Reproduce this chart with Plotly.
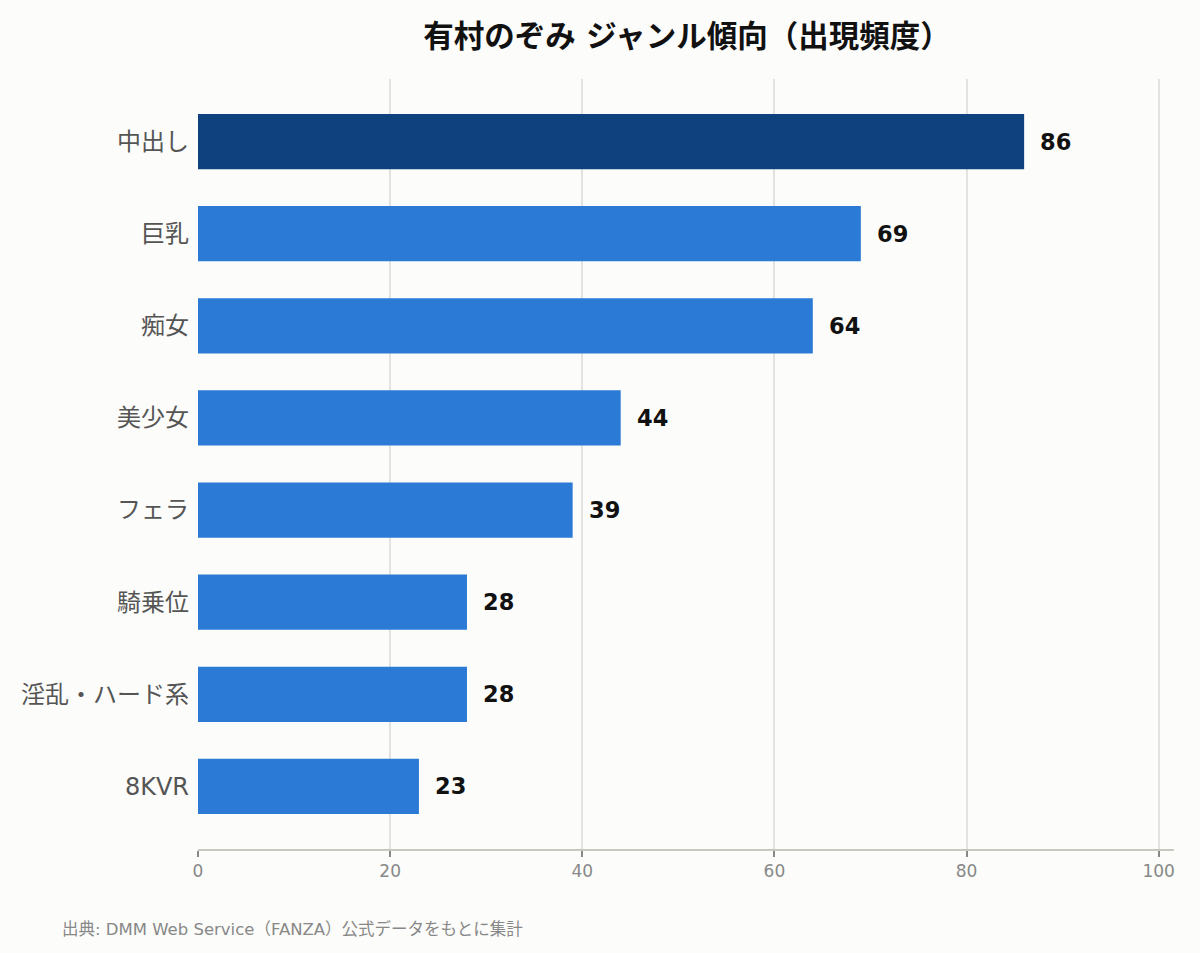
import plotly.graph_objects as go

categories = ["中出し", "巨乳", "痴女", "美少女", "フェラ", "騎乗位", "淫乱・ハード系", "8KVR"]
values = [86, 69, 64, 44, 39, 28, 28, 23]
x_ticks = [0, 20, 40, 60, 80, 100]
title_text = "有村のぞみ ジャンル傾向（出現頻度）"
source_text = "出典: DMM Web Service（FANZA）公式データをもとに集計"

FONT = "DejaVu Sans, Noto Sans CJK JP, sans-serif"
colors = ["#10417F" if i == 0 else "#2A7AD6" for i in range(len(values))]

W, H = 1200, 953
plot_left, plot_right, plot_top, plot_bottom = 198, 1174, 79, 849
pw = plot_right - plot_left
ph = plot_bottom - plot_top

fig = go.Figure()
fig.add_trace(go.Bar(
    x=values, y=categories, orientation="h",
    marker=dict(color=colors, line=dict(width=0)),
    hoverinfo="skip",
))

for c, v in zip(categories, values):
    fig.add_annotation(x=v, y=c, text=f"<b>{v}</b>", showarrow=False,
                       xanchor="left", xshift=14,
                       font=dict(family=FONT, size=22.5, color="#111111"))

fig.add_annotation(x=(60 - plot_left) / pw, y=(plot_bottom - 929) / ph,
                   xref="paper", yref="paper", text=source_text,
                   showarrow=False, xanchor="left", yanchor="middle",
                   font=dict(family=FONT, size=16.5, color="#888888"))

fig.update_layout(
    width=W, height=H,
    margin=dict(l=plot_left, r=W - plot_right, t=plot_top, b=H - plot_bottom, pad=0),
    paper_bgcolor="#FCFCFA", plot_bgcolor="#FCFCFA",
    bargap=0.4,
    showlegend=False,
    font=dict(family=FONT),
    title=dict(text=f"<b>{title_text}</b>", x=687 / W, xanchor="center",
               y=1 - 36 / H, yanchor="middle",
               font=dict(family=FONT, size=30.5, color="#111111")),
    xaxis=dict(range=[0, 101.6], tickvals=x_ticks, showgrid=True,
               gridcolor="#E2E2DE", gridwidth=1.5, zeroline=False,
               showline=True, linecolor="#C8C8C0", linewidth=2,
               ticks="outside", ticklen=6, tickcolor="#888888", tickwidth=2,
               tickfont=dict(family=FONT, size=17, color="#888888")),
    yaxis=dict(categoryorder="array", categoryarray=categories,
               range=[len(categories) - 1 + 0.68, -0.68],
               showgrid=False, zeroline=False, showline=False,
               ticks="", ticklabelstandoff=8,
               tickfont=dict(family=FONT, size=24, color="#555555")),
)

fig.write_html("out.html", config={"displayModeBar": False},
               post_script="document.body.style.margin='0';document.body.style.background='#FCFCFA';")
